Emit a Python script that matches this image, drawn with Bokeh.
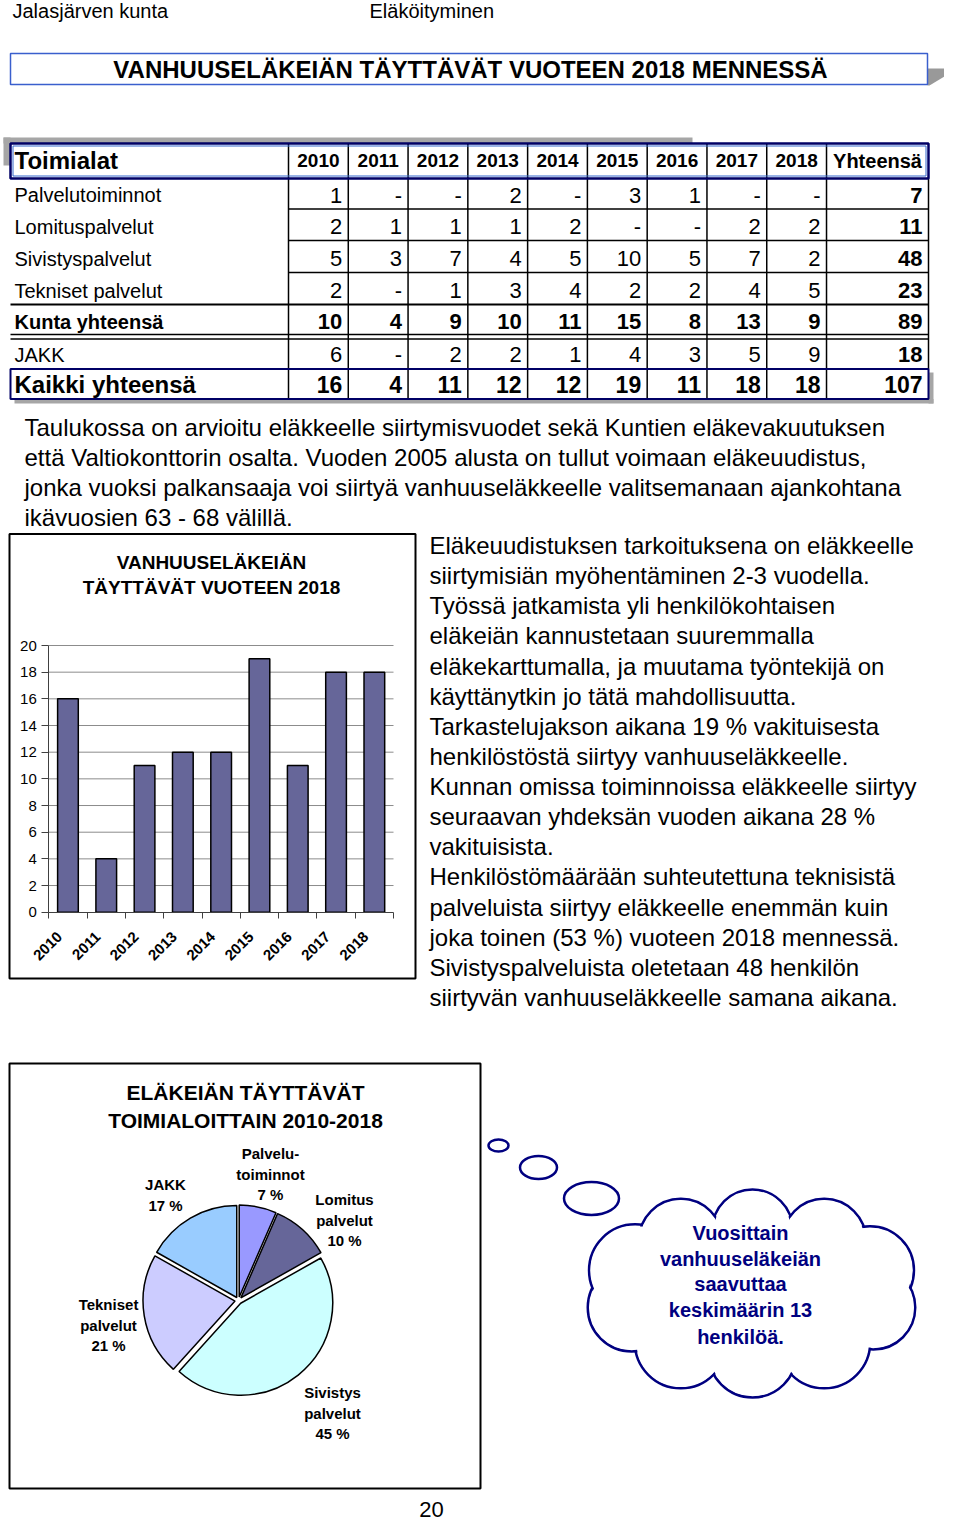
import math
import numpy as np
from bokeh.plotting import figure
from bokeh.layouts import column, row
from bokeh.models import Range1d, LinearAxis, FixedTicker
from bokeh.core.properties import value
from bokeh.embed import file_html
from bokeh.resources import INLINE

FONT = "Liberation Sans"

# ---------------- data ----------------
page_header_left = "Jalasjärven kunta"
page_header_right = "Eläköityminen"
main_title = "VANHUUSELÄKEIÄN TÄYTTÄVÄT VUOTEEN 2018 MENNESSÄ"

years = ["2010", "2011", "2012", "2013", "2014", "2015", "2016", "2017", "2018"]
table_first_header = "Toimialat"
table_total_header = "Yhteensä"
row_labels = ["Palvelutoiminnot", "Lomituspalvelut", "Sivistyspalvelut", "Tekniset palvelut",
              "Kunta yhteensä", "JAKK", "Kaikki yhteensä"]
palvelutoiminnot = [1, 0, 0, 2, 0, 3, 1, 0, 0]
lomituspalvelut = [2, 1, 1, 1, 2, 0, 0, 2, 2]
sivistyspalvelut = [5, 3, 7, 4, 5, 10, 5, 7, 2]
tekniset_palvelut = [2, 0, 1, 3, 4, 2, 2, 4, 5]
kunta_yhteensa = [10, 4, 9, 10, 11, 15, 8, 13, 9]
jakk = [6, 0, 2, 2, 1, 4, 3, 5, 9]
kaikki_yhteensa = [16, 4, 11, 12, 12, 19, 11, 18, 18]
row_totals = [7, 11, 48, 23, 89, 18, 107]

paragraph = [
    "Taulukossa on arvioitu eläkkeelle siirtymisvuodet sekä Kuntien eläkevakuutuksen",
    "että Valtiokonttorin osalta. Vuoden 2005 alusta on tullut voimaan eläkeuudistus,",
    "jonka vuoksi palkansaaja voi siirtyä vanhuuseläkkeelle valitsemanaan ajankohtana",
    "ikävuosien 63 - 68 välillä.",
]
side_text = [
    "Eläkeuudistuksen tarkoituksena on eläkkeelle",
    "siirtymisiän myöhentäminen 2-3 vuodella.",
    "Työssä jatkamista yli henkilökohtaisen",
    "eläkeiän kannustetaan suuremmalla",
    "eläkekarttumalla, ja muutama työntekijä on",
    "käyttänytkin jo tätä mahdollisuutta.",
    "Tarkastelujakson aikana 19 % vakituisesta",
    "henkilöstöstä siirtyy vanhuuseläkkeelle.",
    "Kunnan omissa toiminnoissa eläkkeelle siirtyy",
    "seuraavan yhdeksän vuoden aikana 28 %",
    "vakituisista.",
    "Henkilöstömäärään suhteutettuna teknisistä",
    "palveluista siirtyy eläkkeelle enemmän kuin",
    "joka toinen (53 %) vuoteen 2018 mennessä.",
    "Sivistyspalveluista oletetaan 48 henkilön",
    "siirtyvän vanhuuseläkkeelle samana aikana.",
]

bar_title = ["VANHUUSELÄKEIÄN", "TÄYTTÄVÄT VUOTEEN 2018"]
bar_values = kaikki_yhteensa
y_ticks = [0, 2, 4, 6, 8, 10, 12, 14, 16, 18, 20]

pie_title = ["ELÄKEIÄN TÄYTTÄVÄT", "TOIMIALOITTAIN 2010-2018"]
pie_names = [["Palvelu-", "toiminnot"], ["Lomitus", "palvelut"], ["Sivistys", "palvelut"],
             ["Tekniset", "palvelut"], ["JAKK"]]
pie_values = [7, 11, 48, 23, 18]
pie_colors = ["#9999FF", "#666699", "#CCFFFF", "#CCCCFF", "#99CCFF"]

cloud_text = ["Vuosittain", "vanhuuseläkeiän", "saavuttaa", "keskimäärin 13", "henkilöä."]
page_number = "20"

NAVY = "#000080"


# ---------------- helpers ----------------
def make_fig(w, h, x0, x1, y0, y1):
    p = figure(width=w, height=h, x_range=Range1d(x0, x1), y_range=Range1d(y0, y1),
               output_backend="svg", toolbar_location=None, min_border=0,
               x_axis_type=None, y_axis_type=None, outline_line_color=None,
               background_fill_color="white", border_fill_color="white")
    p.title.visible = False
    return p


def txt(p, xs, ys, texts, size, bold=False, align="left", color="black",
        baseline="middle", angle=0):
    p.text(x=list(xs), y=list(ys), text=list(texts), text_font=value(FONT),
           text_font_size=value(f"{size}px"),
           text_font_style="bold" if bold else "normal",
           text_align=align, text_baseline=baseline, text_color=color, angle=angle)


def neg(ys):
    return [-v for v in ys]


# layout split (picture pixels)
TOP_H = 532
MID_H = 480
BOT_H = 1522 - TOP_H - MID_H
MID_Y0 = TOP_H
BOT_Y0 = TOP_H + MID_H

# ================= A: header, title, table, paragraph =================
A = make_fig(944, TOP_H, 0, 944, -TOP_H, 0)
txt(A, [12], neg([10]), [page_header_left], 20)
txt(A, [369], neg([10]), [page_header_right], 20)

A.patch(x=[927, 957, 929, 927], y=neg([68, 68, 85, 85]), fill_color="#999999", line_color=None)
A.quad(left=10, right=927, top=-53, bottom=-84, fill_color="white",
       line_color="#3A5FCD", line_width=1.5)
txt(A, [470], neg([69]), [main_title], 24, bold=True, align="center")

# table geometry
col_left, col_w, right_edge = 288.0, 59.78, 928.0
col_edges = [col_left + i * col_w for i in range(len(years) + 1)]
head_top, head_bot = 143.0, 178.0
row_y = [194.5, 226, 258, 290, 321, 354, 384]
kaikki_top, kaikki_bot = 368.5, 398.5

# shadows
A.quad(left=[3, 3], right=[692, 10], top=neg([137, 137]), bottom=neg([143, 165]),
       fill_color="#A6A6A6", line_color=None)
A.quad(left=[928, 14], right=[933, 933], top=neg([372, 398.5]), bottom=neg([403, 403]),
       fill_color="#A6A6A6", line_color=None)
A.quad(left=[10, 10], right=[928, 928], top=neg([head_top, kaikki_top]),
       bottom=neg([head_bot, kaikki_bot]), fill_color="white", line_color=None)

# vertical lines
vx = col_edges
A.segment(x0=vx, x1=vx, y0=[-head_top] * len(vx), y1=[-kaikki_bot] * len(vx),
          line_color="black", line_width=1.5)
A.segment(x0=[right_edge], x1=[right_edge], y0=[-head_bot], y1=[-kaikki_top],
          line_color="black", line_width=1.5)
# horizontal lines
hl = [208.5, 240, 272]
A.segment(x0=[col_left] * 3, x1=[right_edge] * 3, y0=neg(hl), y1=neg(hl),
          line_color="black", line_width=1.5)
A.segment(x0=[10], x1=[right_edge], y0=[-304], y1=[-304], line_color="black", line_width=2)
A.segment(x0=[10, 10], x1=[right_edge] * 2, y0=neg([334, 338.5]), y1=neg([334, 338.5]),
          line_color="black", line_width=1.5)
# header & kaikki boxes
A.quad(left=10, right=928, top=-head_top, bottom=-head_bot, fill_color=None,
       line_color="#000066", line_width=2.5)
A.quad(left=12.5, right=925.5, top=-(head_top + 2.5), bottom=-(head_bot - 2.5), fill_color=None,
       line_color="#3366CC", line_width=1)
A.quad(left=10, right=928, top=-kaikki_top, bottom=-kaikki_bot, fill_color=None,
       line_color="#000066", line_width=2)

# header text
txt(A, [14], neg([160]), [table_first_header], 24, bold=True)
txt(A, [e + col_w / 2 for e in col_edges[:-1]], neg([160] * len(years)), years, 19,
    bold=True, align="center")
txt(A, [(col_edges[-1] + right_edge) / 2], neg([160]), [table_total_header], 20,
    bold=True, align="center")

table_rows = [palvelutoiminnot, lomituspalvelut, sivistyspalvelut, tekniset_palvelut,
              kunta_yhteensa, jakk, kaikki_yhteensa]
label_style = [(20, False)] * 4 + [(20, True), (20, False), (24, True)]
num_style = [(22, False)] * 4 + [(22, True), (22, False), (23, True)]
for i, vals in enumerate(table_rows):
    ls, lb = label_style[i]
    ns, nb = num_style[i]
    txt(A, [14], neg([row_y[i]]), [row_labels[i]], ls, bold=lb)
    shown = [str(v) if v != 0 else "-" for v in vals]
    txt(A, [e - 6 for e in col_edges[1:]], neg([row_y[i]] * len(vals)), shown, ns,
        bold=nb, align="right")
    txt(A, [right_edge - 6], neg([row_y[i]]), [str(row_totals[i])], 22 if i < 6 else 23,
        bold=True, align="right")

txt(A, [24] * len(paragraph), neg([427, 457, 487, 517]), paragraph, 24)

# ================= B: bar chart =================
BW, BH = 418, MID_H
frame_l, frame_r = 48.3, 393.0
y0_px, y20_px = 911.7, 645.0
ux = len(years) / (frame_r - frame_l)
uy = 20 / (y0_px - y20_px)
bx0 = -0.5 - frame_l * ux
by0 = 0 - (MID_Y0 + BH - y0_px) * uy


def bx(xs):
    return bx0 + xs * ux


def by(ys):
    return by0 + (MID_Y0 + BH - ys) * uy


B = make_fig(BW, BH, bx0, bx0 + BW * ux, by0, by0 + BH * uy)
B.quad(left=bx(9), right=bx(415), top=by(533.5), bottom=by(978), fill_color=None,
       line_color="black", line_width=2)
txt(B, [bx(211)] * 2, [by(562), by(587)], bar_title, 19, bold=True, align="center")

gt = y_ticks[1:]
B.segment(x0=[-0.5] * len(gt), x1=[len(years) - 0.5] * len(gt), y0=gt, y1=gt,
          line_color="#8C8C8C", line_width=1)
B.vbar(x=list(range(len(years))), top=bar_values, width=0.54, bottom=0,
       fill_color="#666699", line_color="black", line_width=1.5)

yax = LinearAxis(fixed_location=-0.5, ticker=FixedTicker(ticks=y_ticks), bounds=(0, 20),
                 major_tick_out=7, major_tick_in=0, minor_tick_out=0, minor_tick_in=0,
                 axis_line_color="#404040", major_tick_line_color="#404040",
                 major_label_text_font=FONT, major_label_text_font_size="15px",
                 major_label_text_color="black", major_label_standoff=5)
B.add_layout(yax, "left")
xax_t = LinearAxis(fixed_location=0,
                   ticker=FixedTicker(ticks=[i - 0.5 for i in range(len(years) + 1)]),
                   bounds=(-0.5, len(years) - 0.5), major_tick_out=6, major_tick_in=0,
                   minor_tick_out=0, minor_tick_in=0, axis_line_color="#404040",
                   major_tick_line_color="#404040", major_label_text_color=None)
B.add_layout(xax_t, "below")
label_pos = [i - 0.22 for i in range(len(years))]
xax_l = LinearAxis(fixed_location=0, ticker=FixedTicker(ticks=label_pos),
                   major_label_overrides={t: y for t, y in zip(label_pos, years)},
                   major_tick_out=0, major_tick_in=0, minor_tick_out=0, minor_tick_in=0,
                   axis_line_color=None, major_tick_line_color=None,
                   major_label_orientation=math.pi / 4, major_label_text_font=FONT,
                   major_label_text_font_size="15px", major_label_text_font_style="bold",
                   major_label_text_color="black", major_label_standoff=22)
B.add_layout(xax_l, "below")

# ================= C: side text =================
C = make_fig(944 - BW, MID_H, BW, 944, -(MID_Y0 + MID_H), -MID_Y0)
side_y = [545 + 30.13 * i for i in range(len(side_text))]
txt(C, [429] * len(side_text), neg(side_y), side_text, 24)

# ================= D: pie =================
DW = 484
D = make_fig(DW, BOT_H, 0, DW, -(BOT_Y0 + BOT_H), -BOT_Y0)
D.quad(left=9, right=480, top=-1063, bottom=-1488, fill_color=None,
       line_color="black", line_width=2)
txt(D, [245, 245], neg([1092, 1120]), pie_title, 21, bold=True, align="center")

tot = sum(pie_values)
fr = np.cumsum([0] + pie_values) / tot
starts = math.pi / 2 - 2 * math.pi * fr[:-1]
ends = math.pi / 2 - 2 * math.pi * fr[1:]
mids = (starts + ends) / 2
pcx, pcy, prad, off = 238.0, -1300.0, 92.0, 3.5
D.wedge(x=list(pcx + off * np.cos(mids)), y=list(pcy + off * np.sin(mids)), radius=prad,
        start_angle=list(starts), end_angle=list(ends), direction="clock",
        fill_color=pie_colors, line_color="black", line_width=1.5)

pie_label_pos = [(270, 1153), (344, 1199), (332, 1392), (108, 1304), (165, 1184)]
for names, v, (lx, ly) in zip(pie_names, pie_values, pie_label_pos):
    lines = names + [f"{round(v / tot * 100)} %"]
    txt(D, [lx] * len(lines), neg([ly + 20.5 * k for k in range(len(lines))]), lines, 15,
        bold=True, align="center")

txt(D, [431], neg([1509]), [page_number], 22, align="center")

# ================= E: thought cloud =================
E = make_fig(944 - DW, BOT_H, DW, 944, -(BOT_Y0 + BOT_H), -BOT_Y0)
E.ellipse(x=[498, 538, 591], y=neg([1145, 1167, 1198]), width=[20, 37, 55],
          height=[12, 23, 33], fill_color="white", line_color=NAVY, line_width=2.5)

ccx, ccy, ca, cb = 752.0, 1291.0, 125.0, 62.0
bump_deg = np.array([90, 55, 20, -15, -55, -90, -125, -165, 160, 125])
bump_r = np.array([40, 42, 44, 42, 46, 44, 46, 44, 46, 42])
bxs = ccx + ca * np.cos(np.radians(bump_deg))
bys = -ccy + cb * np.sin(np.radians(bump_deg))
E.circle(x=list(bxs), y=list(bys), radius=list(bump_r), fill_color="white",
         line_color=NAVY, line_width=2.5)
E.circle(x=list(bxs), y=list(bys), radius=list(bump_r - 1.6), fill_color="white",
         line_color=None)
E.ellipse(x=[ccx], y=[-ccy], width=[2 * ca], height=[2 * cb], fill_color="white",
          line_color=None)
txt(E, [740] * len(cloud_text), neg([1232, 1258, 1283, 1309, 1336]), cloud_text, 20,
    bold=True, align="center", color=NAVY)

layout = column(A, row(B, C), row(D, E))
open("out.html", "w").write(file_html(layout, INLINE))
